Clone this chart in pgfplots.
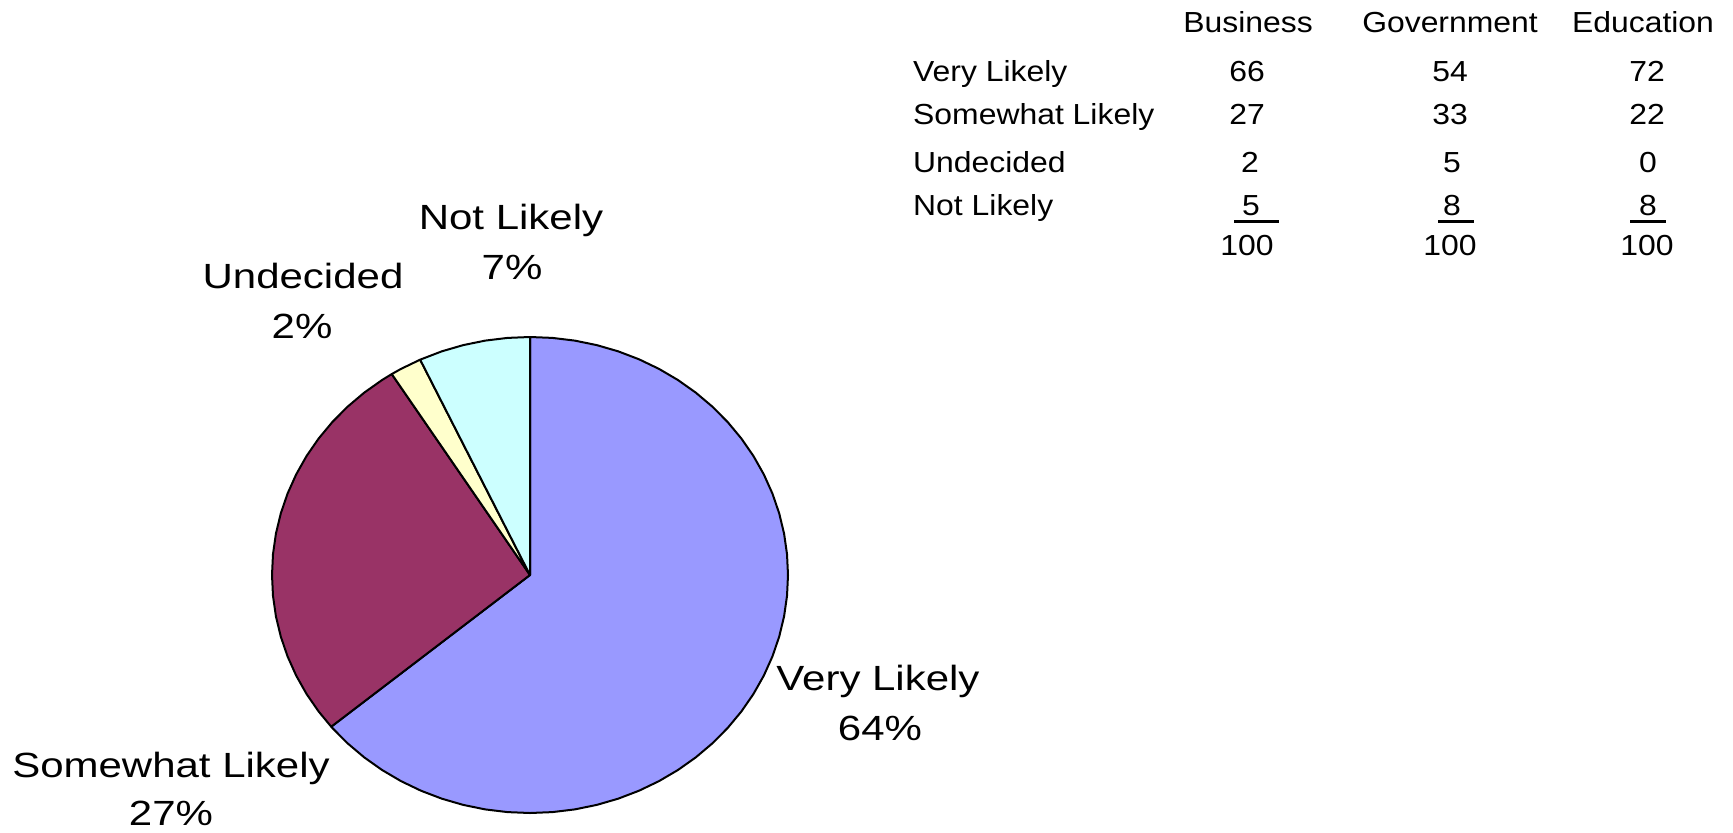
\documentclass[border=0pt]{standalone}
\usepackage{fontspec}
\setmainfont{Liberation Sans}
\usepackage{graphicx}
\usepackage{pgfplots}
\pgfplotsset{compat=1.18}
\definecolor{vl}{HTML}{9999FF}
\definecolor{sl}{HTML}{993366}
\definecolor{ud}{HTML}{FFFFCC}
\definecolor{nl}{HTML}{CCFFFF}
\newcommand{\lab}[1]{\scalebox{1.2}[1]{#1}}
\newcommand{\tb}[1]{\scalebox{1.1}[1]{#1}}
\begin{document}
\begin{tikzpicture}[x=1pt,y=1pt]
\useasboundingbox (0,0) rectangle (866.5,416);
\begin{axis}[hide axis, x=129pt, y=119pt, xmin=-1, xmax=1, ymin=-1, ymax=1,
  anchor=center, at={(265pt,128.5pt)}, clip=false, scale only axis]
% Very Likely 64%
\addplot[draw=black, line width=1pt, line join=round, fill=vl, data cs=polar] coordinates {
(0,0) (90,1) (85,1) (80,1) (75,1) (70,1) (65,1) (60,1) (55,1) (50,1) (45,1) (40,1) (35,1) (30,1) (25,1) (20,1) (15,1) (10,1) (5,1) (0,1) (-5,1) (-10,1) (-15,1) (-20,1) (-25,1) (-30,1) (-35,1) (-40,1) (-45,1) (-50,1) (-55,1) (-60,1) (-65,1) (-70,1) (-75,1) (-80,1) (-85,1) (-90,1) (-95,1) (-100,1) (-105,1) (-110,1) (-115,1) (-120,1) (-125,1) (-130,1) (-135,1) (-140,1) (-140.4,1)
} -- cycle;
% Somewhat Likely 27%
\addplot[draw=black, line width=1pt, line join=round, fill=sl, data cs=polar] coordinates {
(0,0) (-140.4,1) (-145,1) (-150,1) (-155,1) (-160,1) (-165,1) (-170,1) (-175,1) (-180,1) (-185,1) (-190,1) (-195,1) (-200,1) (-205,1) (-210,1) (-215,1) (-220,1) (-225,1) (-230,1) (-235,1) (-237.6,1)
} -- cycle;
% Undecided 2%
\addplot[draw=black, line width=1pt, line join=round, fill=ud, data cs=polar] coordinates {
(0,0) (-237.6,1) (-240,1) (-244.8,1)
} -- cycle;
% Not Likely 7%
\addplot[draw=black, line width=1pt, line join=round, fill=nl, data cs=polar] coordinates {
(0,0) (-244.8,1) (-250,1) (-255,1) (-260,1) (-265,1) (-270,1)
} -- cycle;
\end{axis}
% pie labels
\begin{scope}[every node/.style={anchor=base, inner sep=0pt, font=\fontsize{17.5}{21}\selectfont}]
\node at (255.5,301.5) {\lab{Not Likely}};
\node at (256,276.5) {\lab{7\%}};
\node at (151.5,272) {\lab{Undecided}};
\node at (151,247) {\lab{2\%}};
\node at (439,71) {\lab{Very Likely}};
\node at (440,46) {\lab{64\%}};
\node at (85.5,27.5) {\lab{Somewhat Likely}};
\node at (85.5,3.5) {\lab{27\%}};
\end{scope}
% table
\begin{scope}[every node/.style={anchor=base, inner sep=0pt, font=\fontsize{14.5}{17}\selectfont}]
\node at (624,399.5) {\tb{Business}};
\node at (725,399.5) {\tb{Government}};
\node at (821.5,399.5) {\tb{Education}};
\node[anchor=base west] at (456.4,375) {\tb{Very Likely}};
\node[anchor=base west] at (456.4,353.5) {\tb{Somewhat Likely}};
\node[anchor=base west] at (456.4,330) {\tb{Undecided}};
\node[anchor=base west] at (456.4,308.5) {\tb{Not Likely}};
\node at (623.5,375) {\tb{66}};
\node at (725,375) {\tb{54}};
\node at (823.5,375) {\tb{72}};
\node at (623.5,353.5) {\tb{27}};
\node at (725,353.5) {\tb{33}};
\node at (823.5,353.5) {\tb{22}};
\node at (625,330) {\tb{2}};
\node at (726,330) {\tb{5}};
\node at (824,330) {\tb{0}};
\node at (625.5,308.5) {\tb{5}};
\node at (726,308.5) {\tb{8}};
\node at (824,308.5) {\tb{8}};
\node at (623.5,288.5) {\tb{100}};
\node at (725,288.5) {\tb{100}};
\node at (823.5,288.5) {\tb{100}};
\end{scope}
\draw[line width=1.3pt] (617,305.2) -- (639.5,305.2);
\draw[line width=1.3pt] (719,305.2) -- (737,305.2);
\draw[line width=1.3pt] (815,305.2) -- (833,305.2);
\end{tikzpicture}
\end{document}
